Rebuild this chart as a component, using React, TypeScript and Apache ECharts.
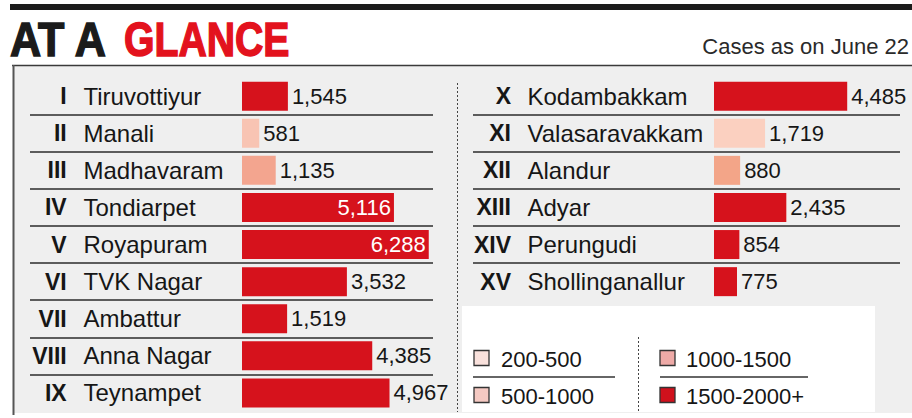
import React, { useEffect, useRef } from 'react';
import * as echarts from 'echarts';

// ---------- data ----------
const leftNumerals = ['I', 'II', 'III', 'IV', 'V', 'VI', 'VII', 'VIII', 'IX'];
const leftZones = ['Tiruvottiyur', 'Manali', 'Madhavaram', 'Tondiarpet', 'Royapuram', 'TVK Nagar', 'Ambattur', 'Anna Nagar', 'Teynampet'];
const leftCases = [1545, 581, 1135, 5116, 6288, 3532, 1519, 4385, 4967];
const leftShades = ['dark', 'pale', 'salmon', 'dark', 'dark', 'dark', 'dark', 'dark', 'dark'];

const rightNumerals = ['X', 'XI', 'XII', 'XIII', 'XIV', 'XV'];
const rightZones = ['Kodambakkam', 'Valasaravakkam', 'Alandur', 'Adyar', 'Perungudi', 'Shollinganallur'];
const rightCases = [4485, 1719, 880, 2435, 854, 775];
const rightShades = ['dark', 'blush', 'peach', 'dark', 'dark', 'dark'];

const legendLabels = ['200-500', '500-1000', '1000-1500', '1500-2000+'];
const legendColors = ['#f9e1dc', '#f5c9c2', '#eeaaa7', '#d0111c'];

const titleDark = 'AT A';
const titleRed = 'GLANCE';
const subtitle = 'Cases as on June 22';

// ---------- styling ----------
const shadeColors: Record<string, string> = {
  dark: '#d6121c',
  pale: '#f8c4b3',
  salmon: '#f3a58f',
  blush: '#fbd0c0',
  peach: '#f3a588',
};
const FONT = '"Liberation Sans", Arial, sans-serif';
const TEXT = '#161616';
const PX = 0.0297; // px per case
const ROW = 37.1;
const TOP = 77.6;

function makeNameAxis(idx: number, zones: string[], nameOffset: number) {
  return {
    type: 'category',
    gridIndex: idx,
    position: 'left',
    inverse: true,
    data: zones,
    axisLine: { show: false },
    axisTick: { show: false },
    splitLine: {
      show: true,
      showMinLine: false,
      showMaxLine: false,
      lineStyle: { color: '#2b2b2b', width: 1.5 },
    },
    axisLabel: {
      inside: true,
      margin: nameOffset,
      interval: 0,
      align: 'left',
      padding: [5, 0, 0, 0],
      fontSize: 24,
      fontFamily: FONT,
      color: TEXT,
    },
  };
}

function makeNumeralAxis(idx: number, numerals: string[], rightEdge: number) {
  return {
    type: 'category',
    gridIndex: idx,
    position: 'left',
    offset: -rightEdge,
    inverse: true,
    data: numerals,
    axisLine: { show: false },
    axisTick: { show: false },
    splitLine: { show: false },
    axisLabel: {
      inside: false,
      margin: 0,
      interval: 0,
      align: 'right',
      padding: [5, 0, 0, 0],
      fontSize: 23,
      fontWeight: 'bold',
      fontFamily: FONT,
      color: TEXT,
    },
  };
}

function makeSeries(idx: number, cases: number[], shades: string[]) {
  return {
    type: 'bar',
    xAxisIndex: idx,
    yAxisIndex: idx * 2,
    barWidth: 29,
    data: cases.map((v, i) => {
      const item: any = { value: v, itemStyle: { color: shadeColors[shades[i]] } };
      if (v >= 5000) item.label = { position: 'insideRight', color: '#ffffff', distance: 3 };
      return item;
    }),
    label: {
      show: true,
      position: 'right',
      distance: 4,
      padding: [5, 0, 0, 0],
      formatter: (p: any) => Number(p.value).toLocaleString('en-US'),
      fontFamily: FONT,
      fontSize: 22,
      color: TEXT,
    },
  };
}

export default function App() {
  const ref = useRef<HTMLDivElement>(null);

  useEffect(() => {
    if (!ref.current) return;
    const chart = echarts.init(ref.current, undefined, { renderer: 'svg' });

    const leftG = { left: 30, width: 403, zero: 242 };
    const rightG = { left: 473, width: 427, zero: 714 };

    const legendGraphics: any[] = [];
    legendLabels.forEach((lab, i) => {
      const col = Math.floor(i / 2);
      const row = i % 2;
      const sx = [474, 660][col];
      const tx = [501, 686][col];
      const cy = [358, 395][row];
      legendGraphics.push({
        type: 'rect',
        z: 10,
        shape: { x: sx, y: cy - 7.5, width: 15, height: 15 },
        style: { fill: legendColors[i], stroke: '#333333', lineWidth: 1.3 },
      });
      legendGraphics.push({
        type: 'text',
        z: 10,
        x: tx,
        y: cy + 1,
        style: { text: lab, fill: TEXT, font: `22px ${FONT}`, verticalAlign: 'middle', align: 'left' },
      });
    });

    const option: any = {
      animation: false,
      backgroundColor: '#ffffff',
      grid: [
        { left: leftG.left, width: leftG.width, top: TOP, height: ROW * leftZones.length, containLabel: false },
        { left: rightG.left, width: rightG.width, top: TOP, height: ROW * rightZones.length, containLabel: false },
      ],
      xAxis: [
        { type: 'value', gridIndex: 0, show: false, min: -(leftG.zero - leftG.left) / PX, max: (leftG.left + leftG.width - leftG.zero) / PX },
        { type: 'value', gridIndex: 1, show: false, min: -(rightG.zero - rightG.left) / PX, max: (rightG.left + rightG.width - rightG.zero) / PX },
      ],
      yAxis: [
        makeNameAxis(0, leftZones, 53.5),
        makeNumeralAxis(0, leftNumerals, 36.7),
        makeNameAxis(1, rightZones, 54.5),
        makeNumeralAxis(1, rightNumerals, 38),
      ],
      series: [makeSeries(0, leftCases, leftShades), makeSeries(1, rightCases, rightShades)],
      graphic: [
        // top black rule
        { type: 'rect', z: -10, shape: { x: 10, y: 4, width: 902, height: 6 }, style: { fill: '#1c1c1c' } },
        // panel
        { type: 'rect', z: -10, shape: { x: 13, y: 65, width: 899, height: 348 }, style: { fill: '#efefef' } },
        { type: 'line', z: -9, shape: { x1: 12, y1: 65.5, x2: 912, y2: 65.5 }, style: { stroke: '#3a3a3a', lineWidth: 1.5 } },
        { type: 'line', z: -9, shape: { x1: 13.5, y1: 65, x2: 13.5, y2: 415 }, style: { stroke: '#555555', lineWidth: 2 } },
        { type: 'line', z: -9, shape: { x1: 457.5, y1: 83, x2: 457.5, y2: 412 }, style: { stroke: '#444444', lineWidth: 1, lineDash: [2, 2] } },
        // legend box
        { type: 'rect', z: -9, shape: { x: 462, y: 306, width: 413, height: 106 }, style: { fill: '#ffffff' } },
        { type: 'line', z: 10, shape: { x1: 473, y1: 377, x2: 615, y2: 377 }, style: { stroke: '#333333', lineWidth: 1.5 } },
        { type: 'line', z: 10, shape: { x1: 660, y1: 377, x2: 808, y2: 377 }, style: { stroke: '#333333', lineWidth: 1.5 } },
        { type: 'line', z: 10, shape: { x1: 638.5, y1: 337, x2: 638.5, y2: 412 }, style: { stroke: '#444444', lineWidth: 1, lineDash: [2, 2] } },
        ...legendGraphics,
        // title
        {
          type: 'text', z: 10, x: 10, y: 39, scaleX: 0.88,
          style: { text: titleDark, fill: '#1b1b1b', stroke: '#1b1b1b', lineWidth: 1.5, font: `bold 49px ${FONT}`, verticalAlign: 'middle', align: 'left' },
        },
        {
          type: 'text', z: 10, x: 124, y: 39, scaleX: 0.8,
          style: { text: titleRed, fill: '#e3121d', stroke: '#e3121d', lineWidth: 1.5, font: `bold 49px ${FONT}`, verticalAlign: 'middle', align: 'left' },
        },
        {
          type: 'text', z: 10, x: 909, y: 46,
          style: { text: subtitle, fill: '#2a2a2a', font: `22px ${FONT}`, verticalAlign: 'middle', align: 'right' },
        },
      ],
    };

    chart.setOption(option);
    return () => chart.dispose();
  }, []);

  return <div ref={ref} style={{ position: 'fixed', left: 0, top: 0, width: 912, height: 418 }} />;
}
